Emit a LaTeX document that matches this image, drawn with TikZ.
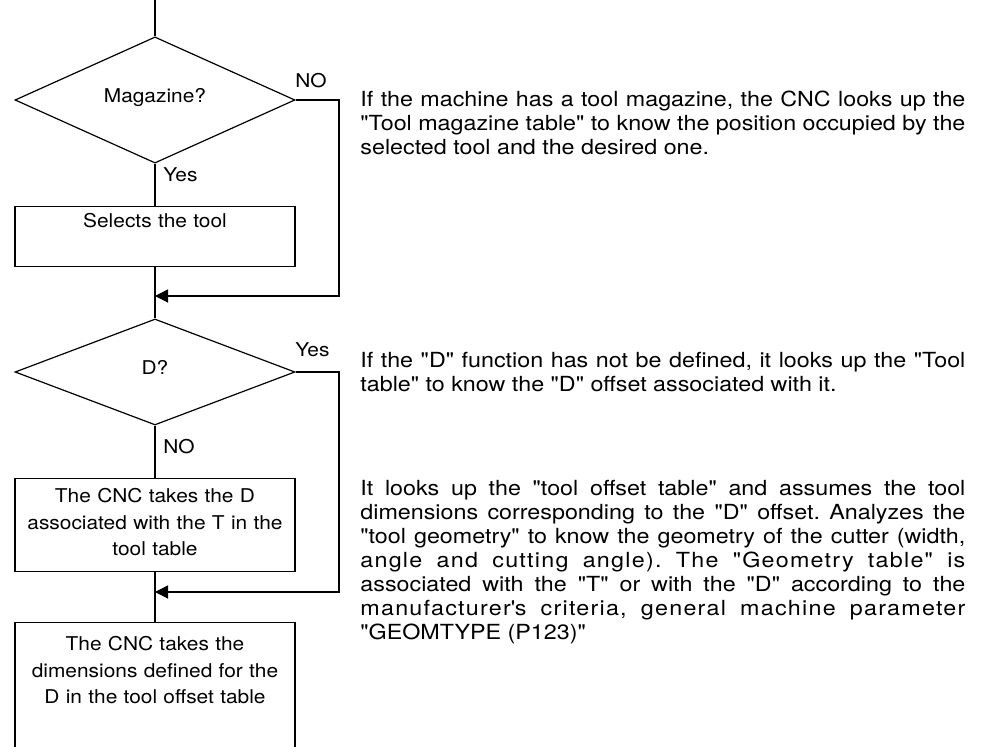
\documentclass[tikz,border=0pt]{standalone}
\usepackage{fontspec}
\setmainfont{TeX Gyre Heros}[FakeStretch=1.1]
\newfontfamily\notefont{TeX Gyre Heros}[FakeStretch=1.12]
\usetikzlibrary{shapes.geometric,arrows.meta,positioning}
\frenchspacing

\tikzset{
  flow/.style={line width=0.6pt},
  joinarrow/.style={flow, -{Triangle[length=6.5pt,width=6.5pt]}},
  decision/.style={diamond, draw, line width=0.6pt, minimum width=140pt,
    minimum height=53pt, inner sep=0pt, text depth=5pt,
    font=\fontsize{9.5}{11}\selectfont},
  process/.style={rectangle, draw, line width=0.6pt, anchor=north,
    minimum width=140pt, text width=132pt, align=center, inner ysep=3.5pt,
    font=\fontsize{9.5}{13.25}\selectfont},
  answer/.style={anchor=base west, inner sep=0pt,
    font=\fontsize{9.5}{11}\selectfont},
  note/.style={anchor=base west, inner sep=0pt, text width=302.5pt,
    align=justify, font=\notefont\fontsize{10.4}{12}\selectfont}
}
\newcommand{\spaced}[1]{{\addfontfeature{LetterSpace=6}#1}}

\begin{document}
\begin{tikzpicture}[x=0.5pt,y=-0.5pt]
    \useasboundingbox (0,0) rectangle (981,747);

    % Entry of the flow and the return rail on the right
    \coordinate (top) at (155,0);
    \coordinate (rail) at (339,0);

    % First question: tool magazine
    \node[decision] (mag) at (155,100) {Magazine?};
    \node[answer] (magno) at (295,88) {NO};
    \node[answer] (magyes) at (163,182) {Yes};
    \node[process, text depth=16pt] (select) at (155,206) {Selects the tool};
    \coordinate (join1) at (155,296);

    % Second question: D function
    \node[decision] (dq) at (155,372) {D?};
    \node[answer] (dqyes) at (295,357) {Yes};
    \node[answer] (dqno) at (163,454) {NO};
    \node[process, inner ysep=5pt, text depth=29.5pt] (taked) at (155,478)
        {The CNC takes the D\\associated with the T in the\\tool table};
    \coordinate (join2) at (155,592);
    \node[process, inner ysep=7pt, text depth=60pt] (dims) at (155,622)
        {The CNC takes the\\dimensions defined for the\\D in the tool offset table};

    % Connectors
    \draw[flow] (top) -- (mag.north);
    \draw[flow] (mag.south) -- (select.north);
    \draw[flow] (select.south) -- (dq.north);
    \draw[joinarrow] (mag.east) -- (mag.east -| rail) |- (join1);
    \draw[flow] (dq.south) -- (taked.north);
    \draw[flow] (taked.south) -- (dims.north);
    \draw[joinarrow] (dq.east) -- (dq.east -| rail) |- (join2);

    % Explanations
    \node[note] (note1) at (360,107)
        {If the machine has a tool magazine, the CNC looks up the\linebreak
         "Tool magazine table" to know the position occupied by the\linebreak
         selected tool and the desired one.};
    \node[note] (note2) at (360,368)
        {If the "D" function has not be defined, it looks up the "Tool\linebreak
         table" to know the "D" offset associated with it.};
    \node[note] (note3) at (360,496)
        {It looks up the "tool offset table" and assumes the tool\linebreak
         dimensions corresponding to the "D" offset. Analyzes the\linebreak
         "tool geometry" to know the geometry of the cutter (width,\linebreak
         \spaced{angle and cutting angle). The "Geometry table" is}\linebreak
         associated with the "T" or with the "D" according to the\linebreak
         \spaced{manufacturer\textquotesingle s criteria, general machine parameter}\linebreak
         "GEOMTYPE (P123)"};

\end{tikzpicture}
\end{document}
